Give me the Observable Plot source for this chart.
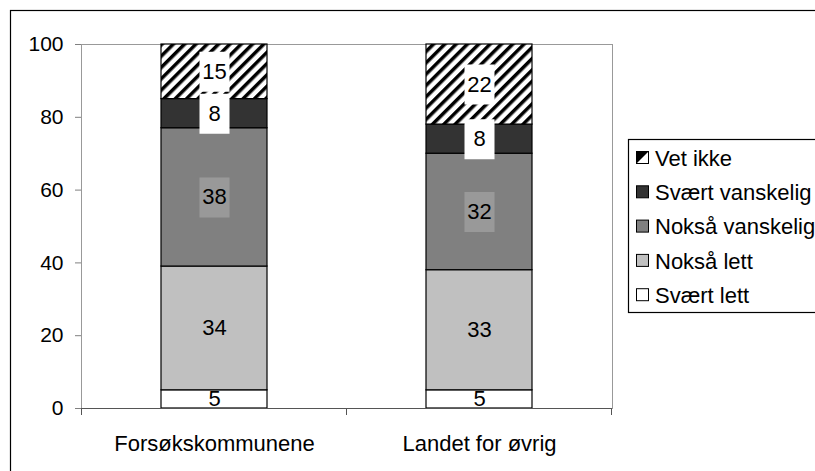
<!DOCTYPE html>
<html><head><meta charset="utf-8">
<script src="https://cdn.jsdelivr.net/npm/d3@7"></script>
<script src="https://cdn.jsdelivr.net/npm/@observablehq/plot@0.6"></script>
<style>
body{margin:0;background:#fff;}
#chart{position:relative;width:815px;height:471px;overflow:hidden;}
</style>
</head><body><div id="chart"></div>
<script>
const categories = ["Forsøkskommunene", "Landet for øvrig"];
const levels = ["Svært lett", "Nokså lett", "Nokså vanskelig", "Svært vanskelig", "Vet ikke"];
const forsokValues = [5, 34, 38, 8, 15];
const landetValues = [5, 33, 32, 8, 22];
const yTicks = [0, 20, 40, 60, 80, 100];

const levelFills = ["#ffffff", "#c0c0c0", "#808080", "#333333", "url(#hatch)"];
const FONT = "Liberation Sans, Arial, sans-serif";

const data = [];
[forsokValues, landetValues].forEach((vals, ci) => {
  let c = 0;
  vals.forEach((v, li) => {
    data.push({cat: categories[ci], level: levels[li], value: v, mid: c + v / 2});
    c += v;
  });
});

const boxSymbol = {draw(ctx) { ctx.rect(-15, -20, 30, 40); }};

const plot = Plot.plot({
  width: 815, height: 471,
  marginLeft: 81, marginRight: 203, marginTop: 44, marginBottom: 63,
  style: {fontFamily: FONT, fontSize: "21px", color: "black", background: "white"},
  x: {type: "band", domain: categories, paddingInner: 0.6, paddingOuter: 0.3, label: null},
  y: {domain: [0, 100], label: null},
  color: {type: "ordinal", domain: levels, range: levelFills},
  marks: [
    Plot.frame({stroke: "#999999"}),
    Plot.barY(data, {x: "cat", y: "value", fill: "level", stroke: "black", strokeWidth: 1.2, inset: 0}),
    Plot.ruleY([0], {stroke: "#555555", strokeWidth: 1.2}),
    Plot.dot(data.filter(d => d.level === "Vet ikke" || d.level === "Svært vanskelig"),
      {x: "cat", y: "mid", symbol: boxSymbol, fill: "white", stroke: "none"}),
    Plot.dot(data.filter(d => d.level === "Nokså vanskelig"),
      {x: "cat", y: "mid", symbol: boxSymbol, fill: "#999999", stroke: "none"}),
    Plot.text(data, {x: "cat", y: "mid", text: d => String(d.value), fontSize: 22, fill: "black"}),
    Plot.axisY({ticks: yTicks, tickSize: 6, tickPadding: 12, fontSize: 21, stroke: "#808080", fill: "black", label: null}),
    Plot.axisX({tickSize: 0, tickPadding: 27, fontSize: 22, fill: "black", label: null})
  ]
});

const svg = d3.select(plot);
const defs = svg.insert("defs", ":first-child");
const pat = defs.append("pattern").attr("id", "hatch").attr("patternUnits", "userSpaceOnUse")
  .attr("width", 8).attr("height", 8).attr("patternTransform", "rotate(45)");
pat.append("rect").attr("width", 8).attr("height", 8).attr("fill", "white");
pat.append("rect").attr("width", 3.5).attr("height", 8).attr("fill", "black");

// x axis boundary ticks
const xs = plot.scale("x");
const step = xs.step;
const left = xs.apply(categories[0]) - (step - xs.bandwidth) / 2;
const bounds = [left, left + step, left + 2 * step];
const yb = plot.scale("y").apply(0);
svg.append("g").selectAll("line").data(bounds).join("line")
  .attr("x1", d => d).attr("x2", d => d).attr("y1", yb).attr("y2", yb + 7)
  .attr("stroke", "#555555");

// outer chart border
svg.append("rect").attr("x", 10.5).attr("y", 10.5).attr("width", 900).attr("height", 600)
  .attr("fill", "none").attr("stroke", "black").attr("stroke-width", 1.2);

// legend
const lg = svg.append("g").attr("font-family", FONT).attr("font-size", 22).attr("text-anchor", "start");
lg.append("rect").attr("x", 628.5).attr("y", 139.5).attr("width", 220).attr("height", 173)
  .attr("fill", "white").attr("stroke", "black").attr("stroke-width", 1.2);
const legendItems = levels.slice().reverse();
legendItems.forEach((lvl, i) => {
  const cy = 158 + i * 34.3;
  const fillC = levelFills[levels.indexOf(lvl)];
  const sx = 636.5, sy = cy - 6.5, ss = 12;
  if (lvl === "Vet ikke") {
    lg.append("rect").attr("x", sx).attr("y", sy).attr("width", ss).attr("height", ss).attr("fill", "white");
    lg.append("path").attr("d", `M${sx},${sy}h${ss}l${-ss},${ss}z`).attr("fill", "black");
    lg.append("rect").attr("x", sx).attr("y", sy).attr("width", ss).attr("height", ss)
      .attr("fill", "none").attr("stroke", "black");
  } else {
    lg.append("rect").attr("x", sx).attr("y", sy).attr("width", ss).attr("height", ss)
      .attr("fill", fillC).attr("stroke", "black");
  }
  lg.append("text").attr("x", 655).attr("y", cy).attr("dy", "0.35em").attr("fill", "black")
    .attr("text-anchor", "start").text(lvl);
});

document.getElementById("chart").appendChild(plot);
</script>
</body></html>
